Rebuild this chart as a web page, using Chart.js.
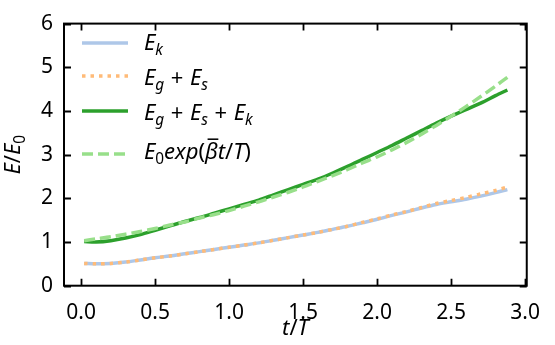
<!DOCTYPE html>
<html>
<head>
<meta charset="utf-8">
<script src="https://cdn.jsdelivr.net/npm/chart.js@4.4.1/dist/chart.umd.min.js"></script>
<style>
  html, body { margin: 0; padding: 0; background: #ffffff; }
  #wrap { width: 555px; height: 345px; }
</style>
</head>
<body>
<div id="wrap"><canvas id="energy" width="555" height="345"></canvas></div>
<script>
// Time in units of the period T
const tValues = [0.02, 0.1, 0.2, 0.3, 0.4, 0.5, 0.6, 0.7, 0.8, 0.9,
                 1.0, 1.1, 1.2, 1.3, 1.4, 1.5, 1.6, 1.7, 1.8, 1.9,
                 2.0, 2.1, 2.2, 2.3, 2.4, 2.5, 2.6, 2.7, 2.8, 2.88];

// Kinetic energy E_k / E_0
const kinetic = [0.51, 0.50, 0.51, 0.54, 0.59, 0.64, 0.68, 0.73, 0.78, 0.83,
                 0.88, 0.93, 0.98, 1.04, 1.10, 1.16, 1.22, 1.29, 1.36, 1.44,
                 1.52, 1.61, 1.69, 1.78, 1.86, 1.92, 1.98, 2.05, 2.13, 2.20];

// Gravitational + surface energy (E_g + E_s) / E_0
const gravSurface = [0.51, 0.50, 0.51, 0.54, 0.59, 0.64, 0.68, 0.73, 0.78, 0.83,
                     0.88, 0.93, 0.98, 1.04, 1.10, 1.16, 1.22, 1.29, 1.36, 1.45,
                     1.53, 1.62, 1.70, 1.79, 1.88, 1.95, 2.02, 2.10, 2.18, 2.26];

// Total energy (E_g + E_s + E_k) / E_0
const totalEnergy = [1.01, 1.00, 1.03, 1.09, 1.17, 1.27, 1.37, 1.47, 1.56, 1.66,
                     1.76, 1.86, 1.96, 2.08, 2.20, 2.32, 2.44, 2.58, 2.73, 2.89,
                     3.05, 3.21, 3.38, 3.55, 3.72, 3.88, 4.03, 4.18, 4.35, 4.48];

// Exponential growth fit E_0 exp(beta t / T)
const expFit = [1.03, 1.07, 1.12, 1.18, 1.24, 1.31, 1.39, 1.46, 1.55, 1.63,
                1.72, 1.82, 1.92, 2.03, 2.14, 2.26, 2.39, 2.52, 2.66, 2.81,
                2.95, 3.11, 3.28, 3.47, 3.67, 3.88, 4.10, 4.33, 4.57, 4.77];

// Axis ticks
const xTicks = [0.0, 0.5, 1.0, 1.5, 2.0, 2.5, 3.0];
const yTicks = [0, 1, 2, 3, 4, 5, 6];

// Series labels, "_" marks a one-character subscript, U+0304 puts a bar over the previous glyph
const seriesLabels = ['E_k', 'E_g + E_s', 'E_g + E_s + E_k', 'E_0exp(\u03B2\u0304t/T)'];
const xTitle = 't/T';
const yTitle = 'E/E_0';

const FONT = '"Noto Sans", "Open Sans", sans-serif';
const colors = ['#aec7e8', '#ffbb78', '#2ca02c', '#98df8a'];
const dashes = [[], [3.5, 5], [], [11, 5]];
const seriesValues = [kinetic, gravSurface, totalEnergy, expFit];

// Draws a tiny subset of math-style text: italic letters, upright digits/symbols,
// single-character subscripts and a bar accent. Returns the advance width.
function drawMath(ctx, text, x, base, size, dryRun) {
  let cx = x;
  let sub = false;
  for (let i = 0; i < text.length; i++) {
    const ch = text[i];
    if (ch === '_') { sub = true; continue; }
    if (ch === '\u0304') continue;
    if (ch === ' ') { cx += size * 0.3; continue; }
    const italic = /[A-Za-z\u0370-\u03FF]/.test(ch);
    const fs = sub ? size * 0.7 : size;
    const y = sub ? base + size * 0.22 : base;
    ctx.font = (italic ? 'italic ' : '') + fs + 'px ' + FONT;
    const w = ctx.measureText(ch).width;
    if (!dryRun) {
      ctx.fillText(ch, cx, y);
      if (text[i + 1] === '\u0304') {
        ctx.save();
        ctx.lineWidth = size * 0.07;
        ctx.beginPath();
        ctx.moveTo(cx + w * 0.2, y - size * 0.9);
        ctx.lineTo(cx + w * 1.05, y - size * 0.9);
        ctx.stroke();
        ctx.restore();
      }
    }
    cx += w;
    sub = false;
  }
  return cx - x;
}

// Frame with inward ticks on all four sides, axis titles and the legend
const framePlugin = {
  id: 'frameTicksLegend',
  afterDraw(chart) {
    const { ctx, chartArea: a, scales } = chart;
    ctx.save();
    ctx.strokeStyle = '#000000';
    ctx.fillStyle = '#000000';
    ctx.lineCap = 'butt';

    // inward ticks
    const tl = 7;
    ctx.lineWidth = 1.8;
    ctx.beginPath();
    xTicks.forEach(v => {
      const px = Math.round(scales.x.getPixelForValue(v)) + 0.5;
      ctx.moveTo(px, a.bottom); ctx.lineTo(px, a.bottom - tl);
      ctx.moveTo(px, a.top); ctx.lineTo(px, a.top + tl);
    });
    yTicks.forEach(v => {
      const py = Math.round(scales.y.getPixelForValue(v)) + 0.5;
      ctx.moveTo(a.left, py); ctx.lineTo(a.left + tl, py);
      ctx.moveTo(a.right, py); ctx.lineTo(a.right - tl, py);
    });
    ctx.stroke();

    // frame
    ctx.lineWidth = 2;
    ctx.strokeRect(a.left, a.top, a.right - a.left, a.bottom - a.top);

    // axis titles
    ctx.textBaseline = 'alphabetic';
    ctx.textAlign = 'left';
    const ts = 22;
    const xw = drawMath(ctx, xTitle, 0, 0, ts, true);
    drawMath(ctx, xTitle, (a.left + a.right) / 2 - xw / 2, 335, ts, false);

    ctx.save();
    ctx.translate(20, (a.top + a.bottom) / 2);
    ctx.rotate(-Math.PI / 2);
    const yw = drawMath(ctx, yTitle, 0, 0, ts, true);
    drawMath(ctx, yTitle, -yw / 2, 0, ts, false);
    ctx.restore();

    // legend
    const rows = [{ line: 43, base: 50 }, { line: 76, base: 85 },
                  { line: 111, base: 120 }, { line: 154, base: 159 }];
    rows.forEach((r, i) => {
      ctx.save();
      ctx.strokeStyle = colors[i];
      ctx.lineWidth = 3.5;
      ctx.setLineDash(dashes[i]);
      ctx.beginPath();
      ctx.moveTo(82, r.line);
      ctx.lineTo(128, r.line);
      ctx.stroke();
      ctx.restore();
      ctx.fillStyle = '#000000';
      drawMath(ctx, seriesLabels[i], 144, r.base, 22, false);
    });
    ctx.restore();
  }
};

const datasets = seriesValues.map((vals, i) => ({
  label: seriesLabels[i],
  data: tValues.map((t, j) => ({ x: t, y: vals[j] })),
  borderColor: colors[i],
  backgroundColor: colors[i],
  borderWidth: 3.5,
  borderDash: dashes[i],
  pointRadius: 0,
  tension: 0.3,
  fill: false,
  order: 4 - i
}));

const tickFont = { family: FONT, size: 21 };

new Chart(document.getElementById('energy'), {
  type: 'line',
  data: { datasets },
  options: {
    responsive: false,
    animation: false,
    devicePixelRatio: 1,
    layout: { padding: { top: 15, right: 14, left: 0, bottom: 0 } },
    plugins: { legend: { display: false }, tooltip: { enabled: false } },
    scales: {
      x: {
        type: 'linear',
        min: -0.116,
        max: 3.011,
        afterBuildTicks: s => { s.ticks = xTicks.map(v => ({ value: v })); },
        afterFit: s => { s.height = 59.3; },
        ticks: { callback: v => v.toFixed(1), font: tickFont, color: '#000000',
                 padding: 15, maxRotation: 0, autoSkip: false },
        grid: { display: false, drawTicks: false },
        border: { display: false }
      },
      y: {
        type: 'linear',
        min: 0,
        max: 6,
        afterBuildTicks: s => { s.ticks = yTicks.map(v => ({ value: v })); },
        afterFit: s => { s.width = 64; },
        ticks: { callback: v => String(v), font: tickFont, color: '#000000',
                 padding: 11, autoSkip: false },
        grid: { display: false, drawTicks: false },
        border: { display: false }
      }
    }
  },
  plugins: [framePlugin]
});
</script>
</body>
</html>
